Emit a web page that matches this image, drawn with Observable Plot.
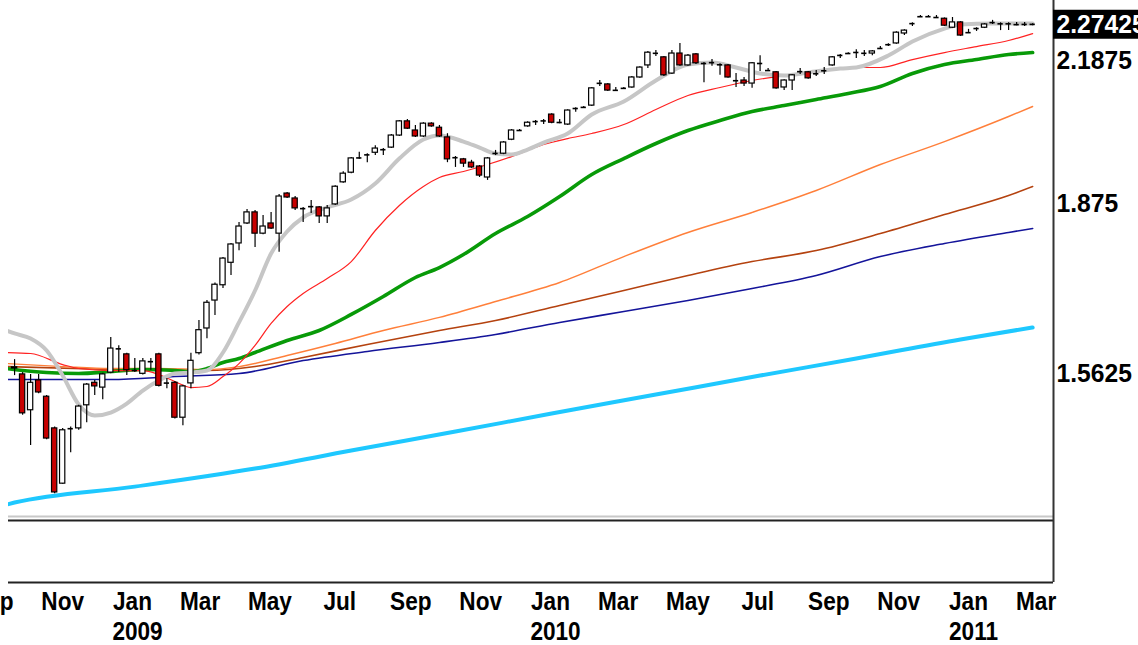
<!DOCTYPE html>
<html><head><meta charset="utf-8">
<script src="https://cdn.jsdelivr.net/npm/d3@7"></script>
<script src="https://cdn.jsdelivr.net/npm/@observablehq/plot@0.6"></script>
<style>
html,body{margin:0;padding:0;background:#fff;}
#chart svg{display:block;}
</style></head><body><div id="chart"></div>
<script>
// ---- weekly candles (first bar: week of 2008-09-20) ----
const open = [1.571,1.561,1.502,1.551,1.524,1.473,1.388,1.473,1.473,1.510,
1.547,1.539,1.564,1.605,1.595,1.568,1.562,1.583,1.595,1.547,
1.547,1.490,1.546,1.597,1.640,1.690,1.718,1.760,1.797,1.836,
1.858,1.816,1.836,1.816,1.896,1.886,1.866,1.870,1.868,1.850,
1.874,1.919,1.939,1.969,1.977,1.981,1.988,1.992,2.018,2.049,
2.029,2.016,2.044,2.035,2.014,1.971,1.967,1.960,1.952,1.929,
1.979,1.979,2.009,2.029,2.038,2.049,2.051,2.064,2.046,2.042,
2.077,2.080,2.084,2.134,2.132,2.118,2.123,2.125,2.148,2.176,
2.204,2.195,2.157,2.204,2.176,2.202,2.181,2.183,2.178,2.176,
2.141,2.141,2.134,2.181,2.164,2.160,2.125,2.141,2.162,2.160,
2.157,2.164,2.176,2.199,2.204,2.206,2.204,2.204,2.216,2.225,
2.228,2.252,2.276,2.293,2.293,2.291,2.288,2.266,2.279,2.254,
2.264,2.266,2.279,2.276,2.276,2.274,2.274,2.274];
const high = [1.586,1.564,1.561,1.561,1.526,1.475,1.473,1.475,1.510,1.546,
1.551,1.563,1.624,1.610,1.597,1.588,1.588,1.588,1.597,1.554,
1.549,1.543,1.597,1.654,1.690,1.722,1.770,1.797,1.838,1.864,
1.862,1.852,1.858,1.894,1.898,1.890,1.868,1.882,1.870,1.872,
1.912,1.941,1.971,1.982,1.979,1.996,1.990,2.020,2.051,2.053,
2.040,2.046,2.046,2.040,2.022,1.973,1.969,1.965,1.954,1.971,
1.986,2.005,2.031,2.031,2.048,2.051,2.053,2.066,2.053,2.075,
2.079,2.082,2.125,2.141,2.134,2.125,2.125,2.150,2.173,2.209,
2.211,2.197,2.211,2.228,2.202,2.204,2.183,2.190,2.180,2.178,
2.157,2.148,2.183,2.199,2.169,2.162,2.143,2.155,2.169,2.162,
2.164,2.171,2.197,2.202,2.206,2.213,2.211,2.211,2.221,2.227,
2.256,2.261,2.278,2.296,2.296,2.296,2.290,2.291,2.281,2.262,
2.266,2.276,2.284,2.278,2.278,2.279,2.279,2.276];
const low = [1.559,1.494,1.446,1.529,1.455,1.373,1.387,1.435,1.470,1.482,
1.526,1.519,1.562,1.564,1.559,1.564,1.560,1.568,1.540,1.537,
1.488,1.477,1.537,1.594,1.622,1.663,1.712,1.736,1.783,1.834,
1.789,1.814,1.824,1.780,1.886,1.862,1.838,1.856,1.836,1.836,
1.872,1.917,1.937,1.967,1.960,1.975,1.975,1.990,2.016,2.031,
2.014,2.014,2.036,2.014,1.960,1.950,1.950,1.948,1.929,1.923,
1.975,1.977,2.007,2.027,2.036,2.040,2.042,2.044,2.044,2.040,
2.069,2.078,2.082,2.127,2.116,2.116,2.121,2.123,2.146,2.169,
2.197,2.150,2.155,2.174,2.174,2.178,2.136,2.174,2.153,2.146,
2.125,2.127,2.123,2.162,2.162,2.121,2.118,2.118,2.155,2.144,
2.150,2.155,2.174,2.192,2.202,2.192,2.197,2.199,2.214,2.221,
2.226,2.247,2.269,2.291,2.291,2.289,2.269,2.264,2.245,2.252,
2.257,2.264,2.274,2.259,2.259,2.271,2.269,2.271];
const close = [1.573,1.497,1.547,1.531,1.457,1.375,1.470,1.472,1.508,1.544,
1.541,1.561,1.605,1.604,1.568,1.567,1.583,1.582,1.542,1.546,
1.490,1.541,1.584,1.637,1.686,1.719,1.768,1.795,1.830,1.858,
1.816,1.830,1.826,1.890,1.888,1.866,1.865,1.869,1.850,1.866,
1.910,1.937,1.969,1.971,1.976,1.990,1.987,2.018,2.049,2.033,
2.016,2.044,2.038,2.016,1.967,1.970,1.958,1.950,1.933,1.969,
1.980,2.003,2.029,2.029,2.046,2.048,2.049,2.046,2.047,2.073,
2.078,2.080,2.123,2.135,2.118,2.119,2.123,2.148,2.171,2.206,
2.205,2.153,2.204,2.176,2.199,2.181,2.180,2.182,2.177,2.148,
2.140,2.134,2.181,2.180,2.164,2.123,2.141,2.153,2.161,2.146,
2.156,2.163,2.195,2.200,2.204,2.207,2.205,2.209,2.216,2.225,
2.254,2.259,2.276,2.293,2.293,2.291,2.271,2.279,2.247,2.254,
2.264,2.274,2.278,2.275,2.275,2.273,2.274,2.27425];

// ---- moving averages (week index -> value) ----
const grayIdx = [-1,0,2,4,6,8,10,12,14,16,18,20,22,24,26,28,30,32,34,36,39,42,45,48,51,53,56,58,60,62,64,66,69,72,76,80,84,87,90,93,96,99,103,105,109,112,116,118,122,127];
const grayVal = [1.6365,1.6312,1.6225,1.6017,1.5591,1.5112,1.4935,1.4983,1.5128,1.5341,1.5507,1.5625,1.5641,1.5675,1.5982,1.6507,1.7083,1.7776,1.8202,1.8478,1.8678,1.8839,1.9166,1.9687,2.0094,2.0180,2.0050,1.9921,1.9794,1.9772,1.9879,2.0029,2.0224,2.0641,2.0932,2.1410,2.1781,2.1828,2.1711,2.1571,2.1525,2.1595,2.1688,2.1711,2.1993,2.2326,2.2639,2.2737,2.2762,2.2762];
const redIdx = [-1,2,6,8,12,16,18,20,22,24,26,28,30,32,34,36,39,42,45,48,51,53,56,59,62,66,69,72,76,80,84,88,92,96,100,104,108,112,116,120,124,127];
const redVal = [1.5982,1.5965,1.5776,1.5709,1.5675,1.5675,1.5608,1.5490,1.5391,1.5408,1.5574,1.5793,1.6104,1.6489,1.6792,1.7029,1.7305,1.7623,1.8222,1.8718,1.9104,1.9290,1.9414,1.9561,1.9729,1.9986,2.0115,2.0224,2.0420,2.0752,2.1067,2.1250,2.1410,2.1525,2.1618,2.1711,2.1711,2.1898,2.2063,2.2206,2.2350,2.2518];
const greenIdx = [-1,4,8,12,16,20,22,24,26,28,30,34,38,42,46,50,53,56,60,64,68,72,76,80,84,88,92,96,100,104,108,112,116,120,124,127];
const greenVal = [1.5709,1.5641,1.5625,1.5658,1.5692,1.5675,1.5658,1.5709,1.5810,1.5879,1.5982,1.6190,1.6365,1.6649,1.6973,1.7324,1.7510,1.7757,1.8163,1.8498,1.8900,1.9352,1.9687,2.0008,2.0289,2.0508,2.0708,2.0842,2.0977,2.1113,2.1272,2.1571,2.1781,2.1898,2.2016,2.2063];
const orangeIdx = [-1,6,12,18,24,28,34,40,46,53,60,68,76,84,92,100,108,116,124,127];
const orangeVal = [1.5793,1.5742,1.5709,1.5709,1.5692,1.5742,1.5931,1.6138,1.6365,1.6596,1.6883,1.7231,1.7718,1.8183,1.8578,1.9022,1.9561,2.0050,2.0597,2.0820];
const brownIdx = [-1,12,24,30,36,44,53,60,68,76,84,92,100,108,116,124,127];
const brownVal = [1.5742,1.5692,1.5675,1.5742,1.5896,1.6121,1.6365,1.6542,1.6810,1.7083,1.7361,1.7623,1.7833,1.8163,1.8538,1.8920,1.9104];
const blueIdx = [-1,12,20,28,36,44,53,60,68,76,84,92,100,108,116,124,127];
const blueVal = [1.5524,1.5524,1.5574,1.5625,1.5844,1.6000,1.6155,1.6295,1.6507,1.6702,1.6901,1.7120,1.7361,1.7718,1.7968,1.8183,1.8261];
const cyanIdx = [-1,0,15,30,42,55,67,80,93,105,118,127];
const cyanVal = [1.3572,1.3601,1.3836,1.4107,1.4383,1.4680,1.4967,1.5275,1.5591,1.5879,1.6208,1.6418];

// ---- axis labels ----
const yTickValues = [2.1875, 1.875, 1.5625];
const monthTicks = ["2008-09-01","2008-11-01","2009-01-01","2009-03-01","2009-05-01","2009-07-01","2009-09-01","2009-11-01","2010-01-01","2010-03-01","2010-05-01","2010-07-01","2010-09-01","2010-11-01","2011-01-01","2011-03-01"];
const monthNames = ["Sep","Nov","Jan","Mar","May","Jul","Sep","Nov","Jan","Mar","May","Jul","Sep","Nov","Jan","Mar"];
const yearTicks = ["2009-01-01","2010-01-01","2011-01-01"];
const yearNames = ["2009","2010","2011"];

// ---- build ----
const DAY = 864e5;
const firstWeek = Date.UTC(2008, 8, 20);
const weekDate = k => new Date(firstWeek + k * 7 * DAY);
const jan1 = Date.UTC(2009, 0, 1);
const xDomain = [new Date(jan1 - 108.3 * DAY), new Date(jan1 + 804.2 * DAY)];
const yDomain = [1.2481, 2.3333];
const panelFloor = 1.334;

const candles = open.map((o, i) => ({date: weekDate(i), open: o, high: high[i], low: low[i], close: close[i]}));
const isDoji = d => Math.abs(Math.log(d.open / d.close)) < 0.0012;
const upBodies = candles.filter(d => !isDoji(d) && d.close > d.open);
const downBodies = candles.filter(d => !isDoji(d) && d.close < d.open);
const dojis = candles.filter(isDoji);
const half = 2.3 * DAY;

const series = (idx, val) => idx.map((k, j) => ({date: weekDate(k), value: val[j]}));
const maDefs = [
  {data: series(cyanIdx, cyanVal), stroke: "#1ec8ff", w: 4},
  {data: series(blueIdx, blueVal), stroke: "#14149a", w: 1.6},
  {data: series(brownIdx, brownVal), stroke: "#b4420f", w: 1.6},
  {data: series(orangeIdx, orangeVal), stroke: "#ff7f3a", w: 1.4},
  {data: series(greenIdx, greenVal), stroke: "#089a08", w: 3.6},
  {data: series(redIdx, redVal), stroke: "#ff2222", w: 1.2},
  {data: series(grayIdx, grayVal), stroke: "#c6c6c6", w: 4}
];

const last = candles[candles.length - 1];
const fontFam = "'Liberation Sans',Arial,sans-serif";
const priceFont = 26.5, timeFont = 26;

const chart = Plot.plot({
  width: 1138,
  height: 645,
  marginLeft: 8,
  marginRight: 85,
  marginTop: 0,
  marginBottom: 63,
  x: {type: "utc", domain: xDomain, axis: null},
  y: {type: "log", domain: yDomain, axis: null},
  style: {background: "#fff", fontFamily: fontFam, overflow: "visible"},
  marks: [
    ...maDefs.map(m => Plot.line(m.data, {x: "date", y: "value", stroke: m.stroke, strokeWidth: m.w, clip: true, curve: "monotone-x"})),
    Plot.ruleX(candles, {x: "date", y1: "low", y2: "high", stroke: "#000", strokeWidth: 1.2}),
    Plot.rect(upBodies, {x1: d => new Date(+d.date - half), x2: d => new Date(+d.date + half), y1: "open", y2: "close", fill: "#fff", stroke: "#000", strokeWidth: 1.2}),
    Plot.rect(downBodies, {x1: d => new Date(+d.date - half), x2: d => new Date(+d.date + half), y1: "open", y2: "close", fill: "#c80000", stroke: "#000", strokeWidth: 1.2}),
    Plot.ruleY(dojis, {y: d => (d.open + d.close) / 2, x1: d => new Date(+d.date - half), x2: d => new Date(+d.date + half), stroke: "#000", strokeWidth: 1.6}),
    // panel separators and frame
    Plot.ruleY([panelFloor * 1.0045], {stroke: "#c8c8c8", strokeWidth: 2}),
    Plot.ruleY([panelFloor], {stroke: "#222", strokeWidth: 2}),
    Plot.ruleY([yDomain[0]], {stroke: "#222", strokeWidth: 2}),
    Plot.ruleX([xDomain[1]], {stroke: "#333", strokeWidth: 2}),
    // right price labels
    Plot.text(yTickValues, {y: d => d, frameAnchor: "right", lineAnchor: "middle", text: d => String(d), textAnchor: "start", dx: 3, fontSize: priceFont, fontWeight: "bold", fill: "#000"}),
    Plot.ruleY([last.close], {x1: () => xDomain[1], x2: () => new Date(+xDomain[1] + 90 * DAY), stroke: "#000", strokeWidth: 29}),
    Plot.text([last.close], {y: d => d, frameAnchor: "right", lineAnchor: "middle", text: d => d3.format(".5f")(d), textAnchor: "start", dx: 3, fontSize: priceFont, fontWeight: "bold", fill: "#fff"}),
    // bottom time labels
    Plot.text(monthTicks.map((t, i) => ({date: new Date(t), label: monthNames[i]})), {x: "date", text: "label", frameAnchor: "bottom", lineAnchor: "middle", dy: 19, fontSize: timeFont, fontWeight: "bold", fill: "#000"}),
    Plot.text(yearTicks.map((t, i) => ({date: new Date(t), label: yearNames[i]})), {x: "date", text: "label", frameAnchor: "bottom", lineAnchor: "middle", dy: 49, dx: 5, fontSize: timeFont, fontWeight: "bold", fill: "#000"})
  ]
});
document.getElementById("chart").appendChild(chart);
// condensed lettering like the reference's narrow bold font
d3.select(chart).selectAll("text").each(function() {
  const w = this.getComputedTextLength();
  const fs = +(this.parentNode.getAttribute("font-size") || 0);
  const k = fs === priceFont ? 0.93 : 0.87;
  if (w > 0) {
    this.setAttribute("textLength", (w * k).toFixed(1));
    this.setAttribute("lengthAdjust", "spacingAndGlyphs");
  }
});
</script>
</body></html>
